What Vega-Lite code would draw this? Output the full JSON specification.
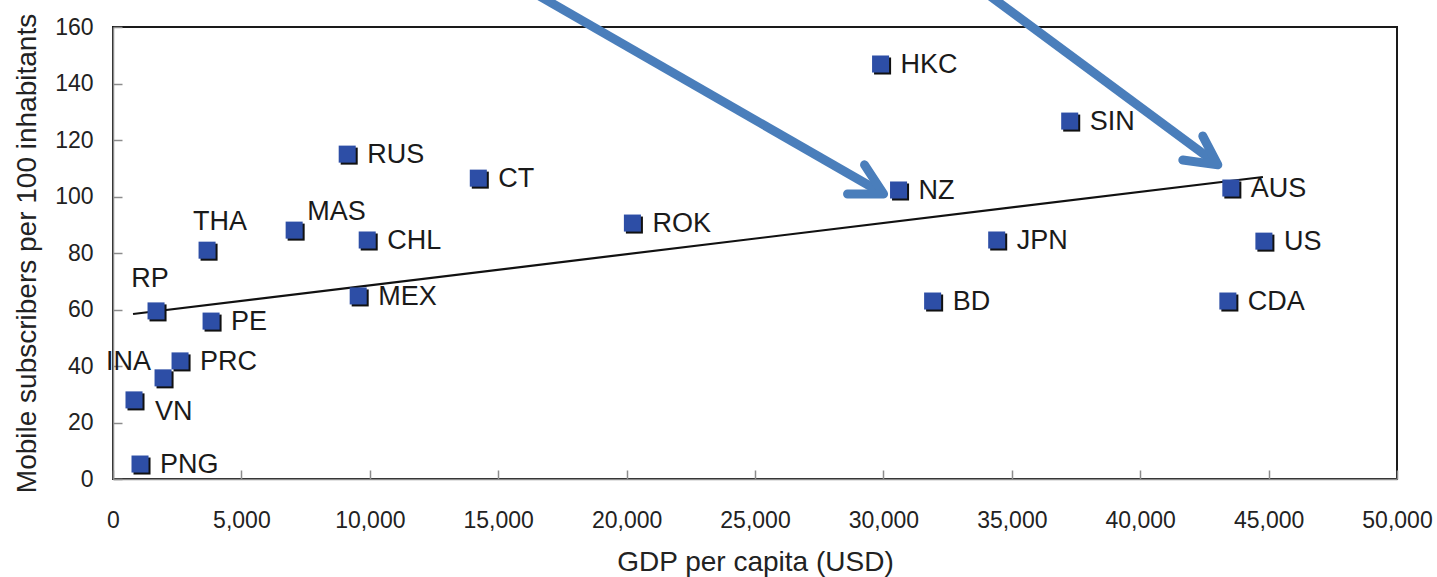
{
  "$schema": "https://vega.github.io/schema/vega-lite/v6.json",
  "autosize": {"type": "none"},
  "width": 1284,
  "height": 452,
  "padding": {"left": 113, "top": 27, "right": 40, "bottom": 98},
  "background": "white",
  "config": {
    "font": "Liberation Sans",
    "view": {"stroke": "#1a1a1a", "strokeWidth": 2},
    "axis": {
      "grid": false,
      "domainColor": "#8c8c8c",
      "domainWidth": 1.5,
      "tickColor": "#8c8c8c",
      "tickWidth": 1.5,
      "tickSize": -9,
      "labelFlush": false,
      "labelFont": "Liberation Sans",
      "labelFontSize": 23,
      "labelColor": "#222222",
      "titleFont": "Liberation Sans",
      "titleFontSize": 28,
      "titleFontWeight": "normal",
      "titleColor": "#222222"
    }
  },
  "datasets": {
    "pts": [
      {"code": "HKC", "gdp": 29890, "mob": 146.9},
      {"code": "SIN", "gdp": 37255, "mob": 126.7},
      {"code": "RUS", "gdp": 9120, "mob": 115.0},
      {"code": "CT", "gdp": 14225, "mob": 106.5},
      {"code": "NZ", "gdp": 30590, "mob": 102.3},
      {"code": "AUS", "gdp": 43530, "mob": 103.0},
      {"code": "ROK", "gdp": 20226, "mob": 90.6},
      {"code": "MAS", "gdp": 7054, "mob": 88.1},
      {"code": "CHL", "gdp": 9899, "mob": 84.6},
      {"code": "JPN", "gdp": 34412, "mob": 84.6},
      {"code": "US", "gdp": 44817, "mob": 84.2},
      {"code": "THA", "gdp": 3663, "mob": 81.0},
      {"code": "MEX", "gdp": 9548, "mob": 64.8},
      {"code": "BD", "gdp": 31917, "mob": 63.0},
      {"code": "CDA", "gdp": 43414, "mob": 63.0},
      {"code": "RP", "gdp": 1676, "mob": 59.5},
      {"code": "PE", "gdp": 3819, "mob": 55.9},
      {"code": "PRC", "gdp": 2611, "mob": 41.8},
      {"code": "INA", "gdp": 1949, "mob": 35.8},
      {"code": "VN", "gdp": 818, "mob": 28.0},
      {"code": "PNG", "gdp": 1052, "mob": 5.3}
    ],
    "trend": [
      {"gdp": 780, "mob": 58.4},
      {"gdp": 44780, "mob": 106.9}
    ],
    "shafts": [
      {"arrow": "a1", "ord": 1, "gdp": 16600, "mob": 171.0},
      {"arrow": "a1", "ord": 2, "gdp": 29900, "mob": 101.5},
      {"arrow": "a2", "ord": 1, "gdp": 34150, "mob": 171.0},
      {"arrow": "a2", "ord": 2, "gdp": 42950, "mob": 111.8}
    ],
    "heads": [
      {"arrow": "a1", "ord": 1, "gdp": 29266, "mob": 111.2},
      {"arrow": "a1", "ord": 2, "gdp": 30007, "mob": 100.9},
      {"arrow": "a1", "ord": 3, "gdp": 28604, "mob": 100.9},
      {"arrow": "a2", "ord": 1, "gdp": 42438, "mob": 121.4},
      {"arrow": "a2", "ord": 2, "gdp": 43023, "mob": 111.2},
      {"arrow": "a2", "ord": 3, "gdp": 41659, "mob": 112.9}
    ]
  },
  "layer": [
    {
      "data": {"name": "trend"},
      "mark": {"type": "line", "color": "#111111", "strokeWidth": 2.2},
      "encoding": {
        "x": {"field": "gdp", "type": "quantitative", "scale": {"domain": [0, 50000], "nice": false},
          "axis": {"title": "GDP per capita (USD)", "values": [0,5000,10000,15000,20000,25000,30000,35000,40000,45000,50000], "format": ",.0f", "labelPadding": 39, "titlePadding": 16}},
        "y": {"field": "mob", "type": "quantitative", "scale": {"domain": [0, 160], "nice": false},
          "axis": {"title": "Mobile subscribers per 100 inhabitants", "values": [0,20,40,60,80,100,120,140,160], "labelPadding": 29, "titlePadding": 13}}
      }
    },
    {
      "data": {"name": "pts"},
      "mark": {"type": "point", "shape": "square", "filled": true, "size": 290, "color": "#111111", "opacity": 1, "xOffset": 2, "yOffset": 2},
      "encoding": {
        "x": {"field": "gdp", "type": "quantitative"},
        "y": {"field": "mob", "type": "quantitative"}
      }
    },
    {
      "data": {"name": "pts"},
      "mark": {"type": "point", "shape": "square", "filled": true, "size": 290, "color": "#2d4ea6", "opacity": 1},
      "encoding": {
        "x": {"field": "gdp", "type": "quantitative"},
        "y": {"field": "mob", "type": "quantitative"}
      }
    },
    {
      "data": {"name": "pts"},
      "transform": [{"filter": {"not": {"field": "code", "oneOf": ["THA", "MAS", "RP", "INA", "VN"]}}}],
      "mark": {"type": "text", "align": "left", "baseline": "middle", "dx": 20, "dy": 1, "fontSize": 27, "color": "#1a1a1a"},
      "encoding": {
        "x": {"field": "gdp", "type": "quantitative"},
        "y": {"field": "mob", "type": "quantitative"},
        "text": {"field": "code"}
      }
    },
    {
      "data": {"name": "pts"},
      "transform": [{"filter": {"field": "code", "equal": "THA"}}],
      "mark": {"type": "text", "align": "center", "baseline": "middle", "dx": 13, "dy": -28, "fontSize": 27, "color": "#1a1a1a"},
      "encoding": {
        "x": {"field": "gdp", "type": "quantitative"},
        "y": {"field": "mob", "type": "quantitative"},
        "text": {"field": "code"}
      }
    },
    {
      "data": {"name": "pts"},
      "transform": [{"filter": {"field": "code", "equal": "MAS"}}],
      "mark": {"type": "text", "align": "left", "baseline": "middle", "dx": 13, "dy": -18, "fontSize": 27, "color": "#1a1a1a"},
      "encoding": {
        "x": {"field": "gdp", "type": "quantitative"},
        "y": {"field": "mob", "type": "quantitative"},
        "text": {"field": "code"}
      }
    },
    {
      "data": {"name": "pts"},
      "transform": [{"filter": {"field": "code", "equal": "RP"}}],
      "mark": {"type": "text", "align": "center", "baseline": "middle", "dx": -6, "dy": -32, "fontSize": 27, "color": "#1a1a1a"},
      "encoding": {
        "x": {"field": "gdp", "type": "quantitative"},
        "y": {"field": "mob", "type": "quantitative"},
        "text": {"field": "code"}
      }
    },
    {
      "data": {"name": "pts"},
      "transform": [{"filter": {"field": "code", "equal": "INA"}}],
      "mark": {"type": "text", "align": "right", "baseline": "middle", "dx": -12, "dy": -16, "fontSize": 27, "color": "#1a1a1a"},
      "encoding": {
        "x": {"field": "gdp", "type": "quantitative"},
        "y": {"field": "mob", "type": "quantitative"},
        "text": {"field": "code"}
      }
    },
    {
      "data": {"name": "pts"},
      "transform": [{"filter": {"field": "code", "equal": "VN"}}],
      "mark": {"type": "text", "align": "left", "baseline": "middle", "dx": 21, "dy": 12, "fontSize": 27, "color": "#1a1a1a"},
      "encoding": {
        "x": {"field": "gdp", "type": "quantitative"},
        "y": {"field": "mob", "type": "quantitative"},
        "text": {"field": "code"}
      }
    },
    {
      "data": {"name": "shafts"},
      "mark": {"type": "line", "color": "#4a7ebb", "strokeWidth": 9, "strokeCap": "butt"},
      "encoding": {
        "x": {"field": "gdp", "type": "quantitative"},
        "y": {"field": "mob", "type": "quantitative"},
        "detail": {"field": "arrow"},
        "order": {"field": "ord"}
      }
    },
    {
      "data": {"name": "heads"},
      "mark": {"type": "line", "color": "#4a7ebb", "strokeWidth": 9, "strokeCap": "round", "strokeJoin": "round"},
      "encoding": {
        "x": {"field": "gdp", "type": "quantitative"},
        "y": {"field": "mob", "type": "quantitative"},
        "detail": {"field": "arrow"},
        "order": {"field": "ord"}
      }
    }
  ]
}
